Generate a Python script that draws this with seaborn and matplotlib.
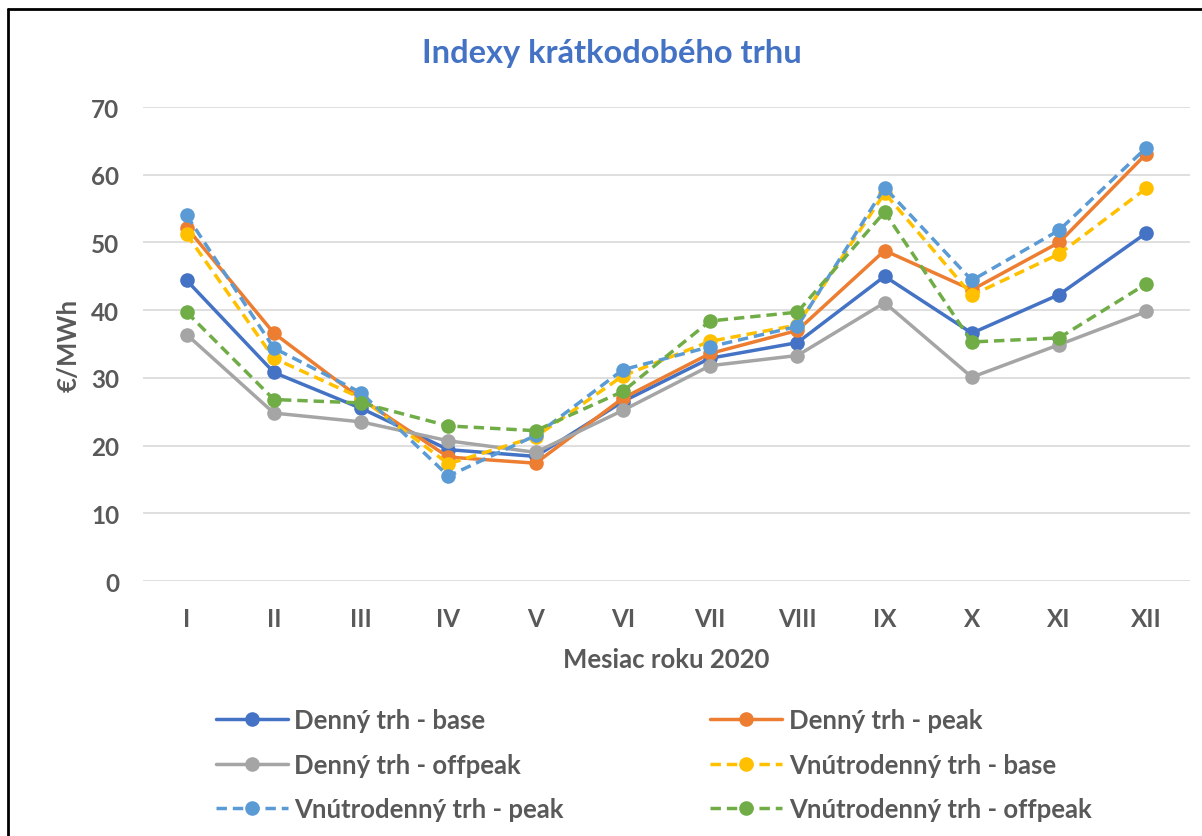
import numpy as np
import pandas as pd
import seaborn as sns
import matplotlib.pyplot as plt
from matplotlib.lines import Line2D

# mesiace
mesiace = ['I', 'II', 'III', 'IV', 'V', 'VI', 'VII', 'VIII', 'IX', 'X', 'XI', 'XII']

# hodnoty v €/MWh (odčítané z grafu)
denny_base = [44.4, 30.8, 25.5, 19.4, 18.4, 26.5, 32.9, 35.2, 45.0, 36.6, 42.3, 51.4]
denny_peak = [52.2, 36.6, 26.9, 18.3, 17.4, 27.0, 33.6, 37.0, 48.8, 43.0, 50.0, 63.1]
denny_offpeak = [36.4, 24.8, 23.5, 20.7, 19.0, 25.2, 31.8, 33.3, 41.1, 30.1, 34.9, 39.8]
vnutro_base = [51.2, 32.9, 27.0, 17.3, 21.3, 30.3, 35.4, 37.8, 57.3, 42.2, 48.3, 58.0]
vnutro_peak = [54.0, 34.4, 27.8, 15.5, 21.5, 31.2, 34.6, 37.6, 58.1, 44.4, 51.8, 64.0]
vnutro_offpeak = [39.7, 26.8, 26.3, 22.9, 22.2, 28.0, 38.4, 39.7, 54.5, 35.3, 35.9, 43.9]

serie = [
    ('Denný trh - base', denny_base, '#4472C4', '-'),
    ('Denný trh - peak', denny_peak, '#ED7D31', '-'),
    ('Denný trh - offpeak', denny_offpeak, '#A5A5A5', '-'),
    ('Vnútrodenný trh - base', vnutro_base, '#FFC000', (0, (3, 1.7))),
    ('Vnútrodenný trh - peak', vnutro_peak, '#5B9BD5', (0, (3, 1.7))),
    ('Vnútrodenný trh - offpeak', vnutro_offpeak, '#70AD47', (0, (3, 1.7))),
]

sns.set_style('white')
plt.rcParams['font.family'] = ['Lato', 'DejaVu Sans']

fig = plt.figure(figsize=(12.02, 8.37), dpi=100)
ax = fig.add_axes([143 / 1202, 1 - 582 / 837, (1190 - 143) / 1202, (582 - 108) / 837])

x = np.arange(len(mesiace))
for nazov, hodnoty, farba, ciara in serie:
    sns.lineplot(x=x, y=hodnoty, ax=ax, color=farba, linestyle=ciara, linewidth=2.5,
                 marker='o', markersize=10.5, markeredgewidth=0, label=nazov)
if ax.get_legend() is not None:
    ax.get_legend().remove()

ax.set_xlim(-0.5, 11.5)
ax.set_ylim(0, 70)
ax.set_yticks(range(0, 71, 10))
ax.set_xticks(x)
ax.set_xticklabels(mesiace)
ax.grid(axis='y', color='#D9D9D9', linewidth=1.2)
ax.set_axisbelow(True)
sns.despine(ax=ax, left=True, bottom=True)
ax.tick_params(axis='both', length=0, labelsize=17.5, labelcolor='#595959')
ax.tick_params(axis='y', pad=17)
ax.tick_params(axis='x', pad=19)
for t in ax.get_xticklabels() + ax.get_yticklabels():
    t.set_fontweight('bold')

ax.set_xlabel('Mesiac roku 2020', fontsize=18.5, fontweight='bold', color='#595959', labelpad=12)
ax.set_ylabel('€/MWh', fontsize=18.5, fontweight='bold', color='#595959', labelpad=8)

fig.text(612 / 1202, 1 - 53 / 837, 'Indexy krátkodobého trhu', ha='center', va='center',
         fontsize=23.5, fontweight='bold', color='#4472C4')

# legenda - poradie pre 2 stĺpce
h, l = ax.get_legend_handles_labels()
poradie = [0, 2, 4, 1, 3, 5]
leg = fig.legend([h[i] for i in poradie], [l[i] for i in poradie], ncol=2, loc='upper left',
                 bbox_to_anchor=(216 / 1202, 1 - 709 / 837), frameon=False, fontsize=18.5,
                 labelcolor='#595959', handlelength=2.8, labelspacing=0.8, columnspacing=5.7,
                 handletextpad=0.25, borderpad=0, borderaxespad=0)
for t in leg.get_texts():
    t.set_fontweight('bold')

# rámik okolo grafu
fig.add_artist(Line2D([8 / 1202, 1], [1 - 10 / 837] * 2, transform=fig.transFigure, color='black', lw=2))
fig.add_artist(Line2D([8 / 1202] * 2, [0, 1 - 10 / 837], transform=fig.transFigure, color='black', lw=2))

plt.savefig('out.png', dpi=100)
